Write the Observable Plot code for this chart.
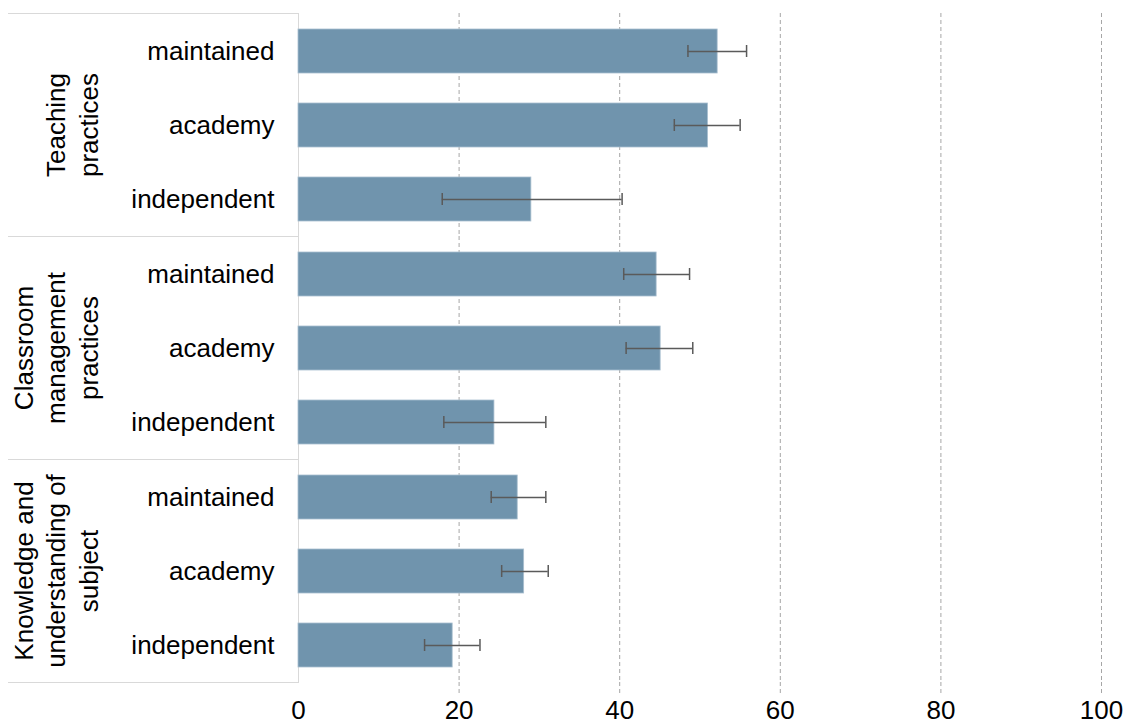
<!DOCTYPE html>
<html><head><meta charset="utf-8">
<script src="https://cdn.jsdelivr.net/npm/d3@7"></script>
<script src="https://cdn.jsdelivr.net/npm/@observablehq/plot@0.6"></script>
<style>body{margin:0;background:#fff}</style>
</head><body><div id="chart"></div>
<script>
const groups = ["Teaching practices", "Classroom management practices", "Knowledge and understanding of subject"];
const groupLabels = ["Teaching\npractices", "Classroom\nmanagement\npractices", "Knowledge and\nunderstanding of\nsubject"];
const types = ["maintained", "academy", "independent"];
const values = [52.2, 51.0, 29.0, 44.6, 45.1, 24.4, 27.3, 28.1, 19.2];
const lower  = [48.5, 46.8, 17.9, 40.5, 40.8, 18.1, 24.0, 25.3, 15.7];
const upper  = [55.8, 55.0, 40.3, 48.7, 49.1, 30.8, 30.8, 31.1, 22.6];
const xTicks = [0, 20, 40, 60, 80, 100];
const gridTicks = [20, 40, 60, 80, 100];

const rows = [];
groups.forEach((g, i) => types.forEach((t, j) => {
  const k = i * 3 + j;
  rows.push({group: g, type: t, value: values[k], lo: lower[k], hi: upper[k]});
}));

const lineColor = "#d9d9d9";
const chart = Plot.plot({
  width: 1126, height: 725,
  marginTop: 12, marginBottom: 43, marginLeft: 298, marginRight: 25,
  style: {fontFamily: "'Liberation Sans', Arial, sans-serif", fontSize: "26px", color: "#000", background: "#fff"},
  x: {domain: [0, 100], ticks: xTicks, tickSize: 0, tickPadding: 18, label: null},
  y: {domain: types, paddingInner: 0.41, paddingOuter: 0.205, tickSize: 0, tickPadding: 24, label: null},
  fy: {domain: groups, padding: 0, axis: null, label: null},
  marks: [
    Plot.ruleX(gridTicks, {x: d => d, stroke: "#a6a6a6", strokeDasharray: "4,3"}),
    Plot.ruleX(gridTicks, {x: d => d, fy: gridTicks.map(() => groups[2]), insetTop: 223, insetBottom: -12, stroke: "#a6a6a6", strokeDasharray: "4,3"}),
    Plot.frame({anchor: "top", stroke: lineColor, insetLeft: -290, insetRight: 803}),
    Plot.frame({anchor: "bottom", stroke: lineColor, insetLeft: -290, insetRight: 803}),
    Plot.frame({anchor: "left", stroke: lineColor}),
    Plot.barX(rows, {x: "value", y: "type", fy: "group", fill: "#7094ad", stroke: "#a9bfcf", strokeWidth: 0.8}),
    Plot.ruleY(rows, {x1: "lo", x2: "hi", y: "type", fy: "group", stroke: "#5a5a5a", strokeWidth: 1.5}),
    Plot.tickX(rows, {x: "lo", y: "type", fy: "group", stroke: "#5a5a5a", strokeWidth: 1.5, insetTop: 16, insetBottom: 16}),
    Plot.tickX(rows, {x: "hi", y: "type", fy: "group", stroke: "#5a5a5a", strokeWidth: 1.5, insetTop: 16, insetBottom: 16}),
    Plot.text(groups, {fy: d => d, text: (d, i) => groupLabels[i], frameAnchor: "left", textAnchor: "middle", rotate: -90, lineAnchor: "bottom", dx: -201, lineHeight: 1.25, fontSize: 26, fill: "#000"})
  ]
});
document.getElementById("chart").appendChild(chart);
</script>
</body></html>
